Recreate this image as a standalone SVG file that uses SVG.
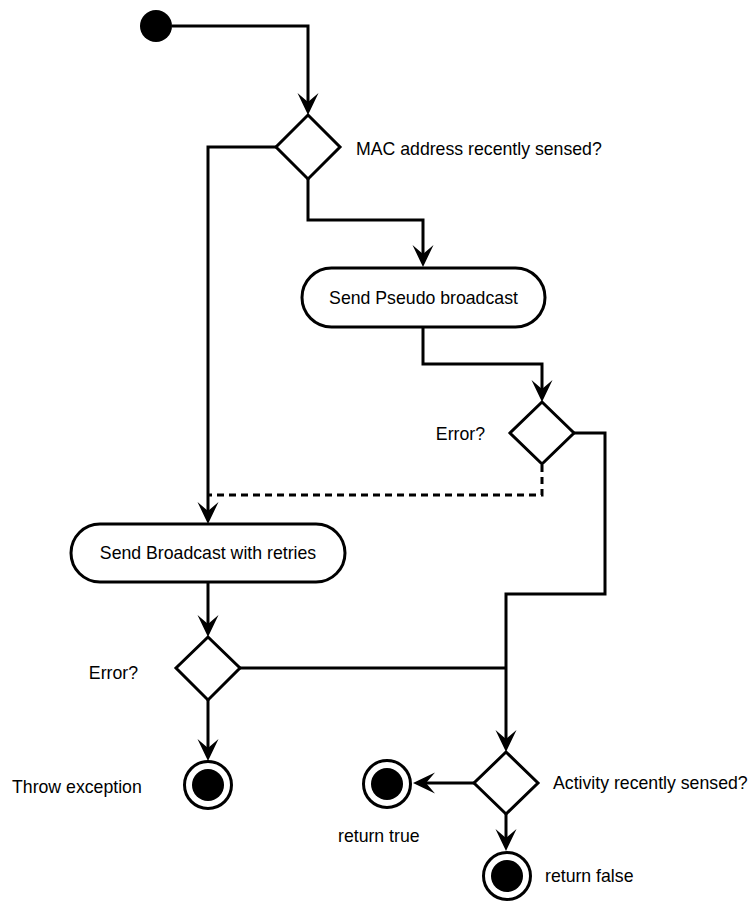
<svg xmlns="http://www.w3.org/2000/svg" width="752" height="901" viewBox="0 0 752 901">
<style>
text{font-family:"Liberation Sans",Arial,sans-serif;font-size:17.7px;fill:#000}
.shape{fill:#fff;stroke:#000;stroke-width:3}
.edge{fill:none;stroke:#000;stroke-width:3}
.dash{stroke-dasharray:7 5}
.dot{fill:#000}
</style>
<defs>
<marker id="arr" markerUnits="userSpaceOnUse" viewBox="-13 -11 24 22" refX="0" refY="0" markerWidth="24" markerHeight="22" orient="auto" overflow="visible">
<path d="M10,0 L-12,-10.5 L-3,0 L-12,10.5 Z" fill="#000"/>
</marker>
</defs>
<g id="edges">
<path class="edge" d="M172,26 H308 V105" marker-end="url(#arr)"/>
<path class="edge" d="M308,179 V220 H423 V257" marker-end="url(#arr)"/>
<path class="edge" d="M423,327 V364 H542 V392" marker-end="url(#arr)"/>
<path class="edge" d="M574,433 H605 V594 H506 V742" marker-end="url(#arr)"/>
<path class="edge dash" d="M542,465 V495 H208"/>
<path class="edge" d="M276,147 H208 V514" marker-end="url(#arr)"/>
<path class="edge" d="M208,582 V627" marker-end="url(#arr)"/>
<path class="edge" d="M240,668 H506"/>
<path class="edge" d="M208,700 V751" marker-end="url(#arr)"/>
<path class="edge" d="M474,783 H423" marker-end="url(#arr)"/>
<path class="edge" d="M506,814 V841" marker-end="url(#arr)"/>
</g>
<g id="start"><circle class="dot" cx="156" cy="26" r="16"/></g>
<g id="d1"><path class="shape" d="M308,115 L340,147 L308,179 L276,147 Z"/><text x="356" y="155">MAC address recently sensed?</text></g>
<g id="pseudo"><rect class="shape" x="302" y="268" width="243" height="59" rx="29.5"/><text x="423.5" y="304" text-anchor="middle">Send Pseudo broadcast</text></g>
<g id="d2"><path class="shape" d="M542,402 L574,433 L542,464 L510,433 Z"/><text x="485" y="440" text-anchor="end">Error?</text></g>
<g id="broadcast"><rect class="shape" x="71" y="524" width="274" height="58" rx="29"/><text x="208" y="559" text-anchor="middle">Send Broadcast with retries</text></g>
<g id="d3"><path class="shape" d="M208,637 L240,668 L208,700 L176,668 Z"/><text x="138" y="679" text-anchor="end">Error?</text></g>
<g id="throw"><circle class="shape" cx="208" cy="785" r="23.5"/><circle class="dot" cx="208" cy="785" r="16"/><text x="12" y="793">Throw exception</text></g>
<g id="d4"><path class="shape" d="M506,752 L538,783 L506,814 L474,783 Z"/><text x="553" y="789">Activity recently sensed?</text></g>
<g id="rtrue"><circle class="shape" cx="387" cy="784" r="23.5"/><circle class="dot" cx="387" cy="784" r="16"/><text x="338" y="842">return true</text></g>
<g id="rfalse"><circle class="shape" cx="507" cy="876" r="23.5"/><circle class="dot" cx="507" cy="876" r="16"/><text x="545" y="882">return false</text></g>
</svg>
